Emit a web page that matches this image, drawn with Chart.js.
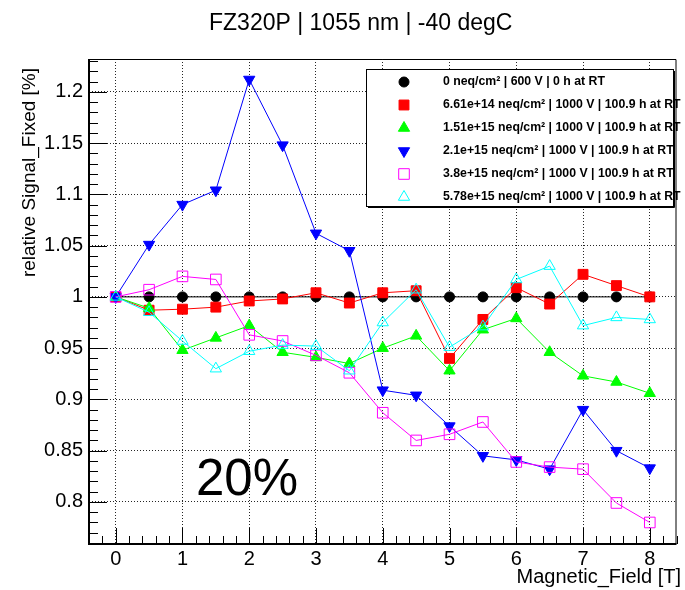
<!DOCTYPE html>
<html>
<head>
<meta charset="utf-8">
<script src="https://cdn.jsdelivr.net/npm/chart.js@4.4.0/dist/chart.umd.min.js"></script>
<style>
  html, body { margin: 0; padding: 0; background: #fff; }
</style>
</head>
<body>
<canvas id="fieldChart" width="685" height="590"></canvas>
<script>
// magnetic field values [T]
var fieldValues = [0, 0.5, 1, 1.5, 2, 2.5, 3, 3.5, 4, 4.5, 5, 5.5, 6, 6.5, 7, 7.5, 8];

// relative signal per irradiation step
var sig0 = [1, 1, 1, 1, 1, 1, 1, 1, 1, 1, 1, 1, 1, 1, 1, 1, 1];
var sig661e14 = [1, 0.987, 0.988, 0.990, 0.996, 0.998, 1.004, 0.994, 1.004, 1.006, 0.940, 0.978, 1.009, 0.993, 1.022, 1.011, 1.000];
var sig151e15 = [1, 0.989, 0.948, 0.960, 0.972, 0.946, 0.941, 0.935, 0.950, 0.962, 0.928, 0.968, 0.979, 0.946, 0.923, 0.917, 0.906];
var sig21e15 = [1, 1.051, 1.090, 1.104, 1.212, 1.148, 1.062, 1.045, 0.909, 0.904, 0.874, 0.845, 0.841, 0.832, 0.890, 0.850, 0.833];
var sig38e15 = [1, 1.007, 1.020, 1.017, 0.963, 0.957, 0.943, 0.926, 0.887, 0.860, 0.866, 0.878, 0.839, 0.834, 0.832, 0.799, 0.780];
var sig578e15 = [1, 0.985, 0.957, 0.930, 0.947, 0.953, 0.952, 0.928, 0.975, 1.007, 0.951, 0.971, 1.017, 1.030, 0.972, 0.980, 0.978];

var seriesLabels = [
  "0 neq/cm\u00b2 | 600 V | 0 h at RT",
  "6.61e+14 neq/cm\u00b2 | 1000 V | 100.9 h at RT",
  "1.51e+15 neq/cm\u00b2 | 1000 V | 100.9 h at RT",
  "2.1e+15 neq/cm\u00b2 | 1000 V | 100.9 h at RT",
  "3.8e+15 neq/cm\u00b2 | 1000 V | 100.9 h at RT",
  "5.78e+15 neq/cm\u00b2 | 1000 V | 100.9 h at RT"
];

var chartTitle = "FZ320P | 1055 nm | -40 degC";
var xTitle = "Magnetic_Field [T]";
var yTitle = "relative Signal_Fixed [%]";
var noteText = "20%";

var FONT = "'Liberation Sans', Arial, Helvetica, sans-serif";
Chart.defaults.font.family = FONT;

function points(vals) {
  return fieldValues.map(function (x, i) { return { x: x, y: vals[i] }; });
}

function series(label, vals, color, style, radius, filled, rotation, order) {
  return {
    label: label,
    data: points(vals),
    showLine: true,
    borderColor: color,
    borderWidth: 1,
    pointStyle: style,
    pointRadius: radius,
    pointRotation: rotation,
    pointBorderColor: color,
    pointBorderWidth: 1,
    pointBackgroundColor: filled ? color : "rgba(0,0,0,0)",
    order: order
  };
}

// ROOT-like frame, inner ticks, legend and texts
var rootDecor = {
  id: "rootDecor",
  beforeDatasetsDraw: function (chart) {
    var ctx = chart.ctx, a = chart.chartArea;
    var xs = chart.scales.x, ys = chart.scales.y;
    ctx.save();
    ctx.strokeStyle = "#000";
    ctx.lineWidth = 1;
    // x ticks every 0.2, major at integers
    for (var i = -2; i <= 42; i++) {
      var px = Math.round(xs.getPixelForValue(i * 0.2)) + 0.5;
      var len = (i % 5 === 0) ? 16 : 8;
      ctx.beginPath();
      ctx.moveTo(px, a.bottom);
      ctx.lineTo(px, a.bottom - len);
      ctx.stroke();
    }
    // y ticks every 0.01, major at 0.05
    for (var j = 76; j <= 123; j++) {
      var py = Math.round(ys.getPixelForValue(j / 100)) + 0.5;
      var ylen = (j % 5 === 0) ? 18 : 9;
      ctx.beginPath();
      ctx.moveTo(a.left, py);
      ctx.lineTo(a.left + ylen, py);
      ctx.stroke();
    }
    // frame
    ctx.beginPath();
    ctx.moveTo(a.left, a.top + 0.5);
    ctx.lineTo(a.right - 0.5, a.top + 0.5);
    ctx.lineTo(a.right - 0.5, a.bottom);
    ctx.stroke();
    ctx.lineWidth = 2;
    ctx.beginPath();
    ctx.moveTo(a.left, a.top);
    ctx.lineTo(a.left, a.bottom);
    ctx.lineTo(a.right, a.bottom);
    ctx.stroke();
    ctx.restore();
  },
  afterDatasetsDraw: function (chart) {
    var ctx = chart.ctx;
    ctx.save();
    // legend box
    var lx = 366, ly = 69, lw = 307, lh = 137;
    ctx.fillStyle = "#fff";
    ctx.fillRect(lx, ly, lw, lh);
    ctx.strokeStyle = "#000";
    ctx.lineWidth = 1;
    ctx.strokeRect(lx + 0.5, ly + 0.5, lw, lh);
    ctx.beginPath();
    ctx.moveTo(lx + 2, ly + lh + 1.5);
    ctx.lineTo(lx + lw + 1.5, ly + lh + 1.5);
    ctx.lineTo(lx + lw + 1.5, ly + 2);
    ctx.stroke();

    ctx.font = "bold 12.3px " + FONT;
    ctx.textBaseline = "middle";
    ctx.textAlign = "left";
    chart.data.datasets.forEach(function (ds, k) {
      var rowY = 82 + 23 * k;
      ctx.fillStyle = ds.pointBackgroundColor;
      ctx.strokeStyle = ds.pointBorderColor;
      ctx.lineWidth = ds.pointBorderWidth;
      Chart.helpers.drawPoint(ctx, {
        pointStyle: ds.pointStyle,
        radius: ds.pointRadius,
        rotation: ds.pointRotation || 0,
        borderWidth: ds.pointBorderWidth
      }, 404, rowY);
      ctx.fillStyle = "#000";
      ctx.fillText(ds.label, 443, rowY);
    });

    // title
    ctx.fillStyle = "#000";
    ctx.textBaseline = "alphabetic";
    ctx.font = "23px " + FONT;
    ctx.textAlign = "left";
    ctx.fillText(chartTitle, 209, 30);

    // big note
    ctx.font = "51px " + FONT;
    ctx.fillText(noteText, 196, 495);

    // axis titles
    ctx.font = "20px " + FONT;
    ctx.textAlign = "right";
    ctx.fillText(xTitle, 681, 583);

    ctx.translate(30, 68);
    ctx.rotate(-Math.PI / 2);
    ctx.font = "19px " + FONT;
    ctx.textAlign = "right";
    ctx.textBaseline = "middle";
    ctx.fillText(yTitle, 0, 0);
    ctx.restore();
  }
};

var ctx_field = document.getElementById("fieldChart").getContext("2d");

var fieldChart = new Chart(ctx_field, {
  type: "scatter",
  data: {
    datasets: [
      series(seriesLabels[0], sig0, "#000000", "circle", 5, true, 0, 6),
      series(seriesLabels[1], sig661e14, "#ff0000", "rect", 7, true, 0, 5),
      series(seriesLabels[2], sig151e15, "#00ff00", "triangle", 6.5, true, 0, 4),
      series(seriesLabels[3], sig21e15, "#0000ff", "triangle", 6.5, true, 180, 3),
      series(seriesLabels[4], sig38e15, "#ff00ff", "rect", 7.5, false, 0, 2),
      series(seriesLabels[5], sig578e15, "#00ffff", "triangle", 6.5, false, 0, 1)
    ]
  },
  options: {
    responsive: false,
    animation: false,
    layout: { padding: { top: 59, right: 6, left: 0, bottom: 0 } },
    plugins: {
      legend: { display: false },
      tooltip: { enabled: false }
    },
    scales: {
      x: {
        type: "linear",
        min: -0.4,
        max: 8.4,
        afterFit: function (s) { s.height = 46; },
        ticks: {
          stepSize: 1,
          includeBounds: false,
          color: "#000",
          padding: 3,
          font: { size: 20 },
          maxRotation: 0
        },
        grid: { color: "rgba(0,0,0,0.85)", lineWidth: 1, drawTicks: false },
        border: { display: false, dash: [1, 2] }
      },
      y: {
        min: 0.759,
        max: 1.232,
        afterFit: function (s) { s.width = 89; },
        ticks: {
          stepSize: 0.05,
          includeBounds: false,
          color: "#000",
          padding: 6,
          font: { size: 20 },
          callback: function (v) { return String(Math.round(v * 100) / 100); }
        },
        grid: { color: "rgba(0,0,0,0.85)", lineWidth: 1, drawTicks: false },
        border: { display: false, dash: [1, 2] }
      }
    }
  },
  plugins: [rootDecor]
});
</script>
</body>
</html>
